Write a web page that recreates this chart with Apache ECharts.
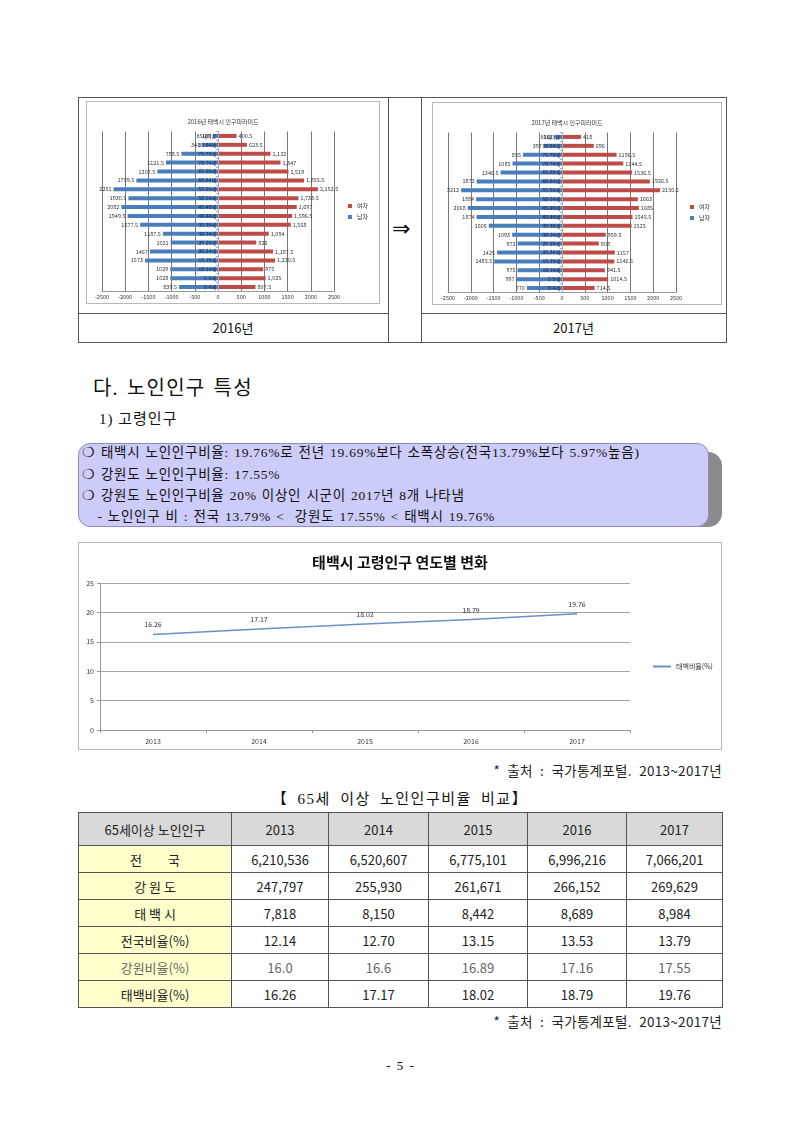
<!DOCTYPE html>
<html>
<head>
<meta charset="utf-8">
<title>태백시 노인인구 특성</title>
<script src="https://cdn.jsdelivr.net/npm/echarts@6/dist/echarts.min.js"></script>
<style>
    body { margin: 0; background: #fff; }
    #page { position: relative; width: 800px; height: 1131px; font-family: "Liberation Serif", "Noto Sans CJK KR", serif; color: #111; }
    .abs { position: absolute; }
    .line { position: absolute; background: #555; }
    .chartbox { position: absolute; border: 1px solid #b8b8b8; box-sizing: border-box; }
    .txt { position: absolute; white-space: nowrap; line-height: 1; }
    .boxtxt { font-size: 13.5px; letter-spacing: 0.75px; word-spacing: 1px; }
    .src { font-size: 13.5px; font-family: "Noto Sans CJK KR"; word-spacing: 4px; letter-spacing: 0.3px; color: #222; }
    table.cmp { position: absolute; left: 78px; top: 812px; width: 644px; border-collapse: collapse; table-layout: fixed;
        font-family: "Noto Sans CJK KR", sans-serif; font-size: 13px; color: #222; }
    table.cmp td { border: 1px solid #555; text-align: center; padding: 0; height: 26px; }
    table.cmp tr.head td { background: #d9d9d9; height: 32px; }
    table.cmp td.rowname { background: #ffffcc; }
    table.cmp tr.light td { color: #666; }
</style>
</head>
<body>
<div id="page">
    <!-- 위쪽 표 (2016 / 2017 인구피라미드) -->
    <div class="line" style="left:78px;top:97px;width:648px;height:1px"></div>
    <div class="line" style="left:78px;top:342px;width:648px;height:1px"></div>
    <div class="line" style="left:78px;top:97px;width:1px;height:246px"></div>
    <div class="line" style="left:726px;top:97px;width:1px;height:246px"></div>
    <div class="line" style="left:388px;top:97px;width:1px;height:246px"></div>
    <div class="line" style="left:421px;top:97px;width:1px;height:246px"></div>
    <div class="line" style="left:78px;top:313px;width:310px;height:1px"></div>
    <div class="line" style="left:421px;top:313px;width:305px;height:1px"></div>
    <div class="txt" style="left:392px;top:218px;font-size:22px;font-family:'DejaVu Sans'">⇒</div>
    <div class="txt" style="left:78px;width:310px;top:321px;text-align:center;font-size:13px;font-family:'Noto Sans CJK KR'">2016년</div>
    <div class="txt" style="left:421px;width:305px;top:321px;text-align:center;font-size:13px;font-family:'Noto Sans CJK KR'">2017년</div>
    <div class="chartbox" id="pyr2016" style="left:86px;top:101px;width:294px;height:203px"></div>
    <div class="chartbox" id="pyr2017" style="left:432px;top:102px;width:290px;height:203px"></div>

    <!-- 제목 -->
    <div class="txt" style="left:93px;top:378px;font-size:20px;letter-spacing:1.2px;word-spacing:2px">다. 노인인구 특성</div>
    <div class="txt" style="left:99px;top:412px;font-size:15px;letter-spacing:1px">1) 고령인구</div>

    <!-- 요약 박스 -->
    <div class="abs" style="left:92px;top:452px;width:630px;height:75px;border-radius:14px;background:linear-gradient(90deg,#c4c4c4,#8a8a8a)"></div>
    <div class="abs" style="left:78px;top:443px;width:631px;height:84px;border-radius:12px;background:#ccccf8;border:1px solid #8c8cc0;box-sizing:border-box"></div>
    <div class="txt boxtxt" style="left:82px;top:446px">❍ 태백시 노인인구비율: 19.76%로 전년 19.69%보다 소폭상승(전국13.79%보다 5.97%높음)</div>
    <div class="txt boxtxt" style="left:82px;top:468px">❍ 강원도 노인인구비율: 17.55%</div>
    <div class="txt boxtxt" style="left:82px;top:489px">❍ 강원도 노인인구비율 20% 이상인 시군이 2017년 8개 나타냄</div>
    <div class="txt boxtxt" style="left:82px;top:510px">&nbsp;&nbsp;&nbsp;- 노인인구 비 : 전국 13.79% &lt;&nbsp; 강원도 17.55% &lt; 태백시 19.76%</div>

    <!-- 선 그래프 -->
    <div class="chartbox" id="lineChart" style="left:78px;top:542px;width:644px;height:208px"></div>
    <div class="txt src" style="right:78px;top:764px">* 출처 : 국가통계포털. 2013~2017년</div>

    <!-- 비교표 -->
    <div class="txt" style="left:0;width:800px;top:792px;text-align:center;font-size:15px;letter-spacing:1.5px;word-spacing:4px">【 65세 이상 노인인구비율 비교】</div>
    <table class="cmp" id="cmpTable"></table>
    <div class="txt src" style="right:78px;top:1015px">* 출처 : 국가통계포털. 2013~2017년</div>

    <div class="txt" style="left:0;width:800px;top:1059px;text-align:center;font-size:13px;word-spacing:3px">- 5 -</div>
</div>

<script>
// 연령 구간 (아래 -> 위)
const ageGroups = ['0-4세', '5-9세', '10-14세', '15-19세', '20-24세', '25-29세', '30-34세', '35-39세', '40-44세',
    '45-49세', '50-54세', '55-59세', '60-64세', '65-69세', '70-74세', '75-79세', '80-84세', '85세이상']
// 2016년 인구 (아래 -> 위)
const male2016 = [839.5, 1028, 1029, 1573, 1467, 1021, 1187.5, 1677.5, 1949.5, 2082, 1930.5, 2251, 1759.5, 1307.5, 1121.5, 788.5, 341, 108]
const female2016 = [807.5, 1025, 975, 1230.5, 1187.5, 826, 1094, 1568, 1596.5, 1697, 1733.5, 2152.5, 1855.5, 1519, 1347, 1132, 623.5, 400.5]
// 2017년 인구 (아래 -> 위)
const male2017 = [770, 997, 975, 1485.5, 1425, 973, 1093, 1605, 1874, 2068, 1884, 2212, 1873, 1346.5, 1085, 855, 397, 161]
const female2017 = [714.5, 1014.5, 941.5, 1146.5, 1157, 808, 959.5, 1525, 1545.5, 1685, 1663, 2150.5, 1926.5, 1536.5, 1344.5, 1196.5, 696, 418]

// 선 그래프 / 표
const years = ['2013', '2014', '2015', '2016', '2017']
const nationPop = [6210536, 6520607, 6775101, 6996216, 7066201]
const gangwonPop = [247797, 255930, 261671, 266152, 269629]
const taebaekPop = [7818, 8150, 8442, 8689, 8984]
const nationRatio = ['12.14', '12.70', '13.15', '13.53', '13.79']
const gangwonRatio = ['16.0', '16.6', '16.89', '17.16', '17.55']
const taebaekRatio = [16.26, 17.17, 18.02, 18.79, 19.76]

const FONT = 'Noto Sans CJK KR'
const fmtComma = (v) => v.toLocaleString('en-US', { maximumFractionDigits: 1 })

// 인구피라미드 옵션 (연령 라벨은 0 위치로 옮김)
function pyramidOption(title, male, female, chartWidth, femaleComma) {
    const gridLeft = 15
    const gridRight = 45
    const plotWidth = chartWidth - gridLeft - gridRight
    return {
        animation: false,
        textStyle: { fontFamily: FONT },
        title: {
            text: title,
            left: gridLeft + plotWidth / 2,
            top: 12,
            textAlign: 'center',
            textStyle: { fontSize: 6, fontWeight: 'normal', color: '#333', fontFamily: FONT },
        },
        legend: {
            data: ['여자', '남자'],
            orient: 'vertical',
            right: 6,
            top: 96,
            icon: 'rect',
            itemWidth: 4,
            itemHeight: 4,
            itemGap: 5,
            textStyle: { fontSize: 6, color: '#333' },
        },
        grid: { left: gridLeft, right: gridRight, top: 29.5, bottom: 11.5 },
        xAxis: {
            type: 'value',
            min: -2500,
            max: 2500,
            interval: 500,
            axisLine: { show: true, lineStyle: { color: '#999' } },
            axisTick: { show: false },
            axisLabel: { fontSize: 5.5, margin: 3, color: '#333', formatter: (v) => String(v) },
            splitLine: { show: true, lineStyle: { color: '#777' } },
        },
        yAxis: {
            type: 'category',
            data: ageGroups,
            z: 5,
            offset: -plotWidth / 2,
            axisLine: { onZero: false, lineStyle: { color: '#aaa' } },
            axisTick: { show: true, length: 2, lineStyle: { color: '#aaa' } },
            axisLabel: { fontSize: 5, margin: 2, color: '#1a1a40' },
        },
        series: [
            {
                name: '남자',
                type: 'bar',
                data: male.map((v) => -v),
                barWidth: 4,
                barGap: '-100%',
                itemStyle: { color: '#4a7ebb' },
                label: { show: true, position: 'left', distance: 2, fontSize: 5.5, color: '#333', formatter: (p) => String(-p.value) },
            },
            {
                name: '여자',
                type: 'bar',
                data: female,
                barWidth: 4,
                itemStyle: { color: '#be4b48' },
                label: {
                    show: true, position: 'right', distance: 2, fontSize: 5.5, color: '#333',
                    formatter: (p) => (femaleComma ? fmtComma(p.value) : String(p.value)),
                },
            },
        ],
    }
}

const pyr2016 = echarts.init(document.getElementById('pyr2016'))
pyr2016.setOption(pyramidOption('2016년 태백시 인구피라미드', male2016, female2016, pyr2016.getWidth(), true))
const pyr2017 = echarts.init(document.getElementById('pyr2017'))
pyr2017.setOption(pyramidOption('2017년 태백시 인구피라미드', male2017, female2017, pyr2017.getWidth(), false))

// 연도별 고령인구 비율 선 그래프
const lineChart = echarts.init(document.getElementById('lineChart'))
lineChart.setOption({
    animation: false,
    textStyle: { fontFamily: FONT },
    title: {
        text: '태백시 고령인구 연도별 변화',
        left: 'center',
        top: 7,
        textStyle: { fontSize: 15, fontWeight: 'bold', color: '#111', fontFamily: FONT },
    },
    legend: {
        data: ['태백비율(%)'],
        left: 569,
        top: 115,
        icon: 'rect',
        itemWidth: 18,
        itemHeight: 2,
        itemGap: 3,
        textStyle: { fontSize: 7, color: '#333' },
    },
    grid: { left: 21, right: 91, top: 40, bottom: 19 },
    xAxis: {
        type: 'category',
        data: years,
        boundaryGap: true,
        axisLine: { lineStyle: { color: '#999' } },
        axisTick: { show: true, length: 3, lineStyle: { color: '#999' } },
        axisLabel: { fontSize: 7, margin: 8, color: '#333' },
    },
    yAxis: {
        type: 'value',
        min: 0,
        max: 25,
        interval: 5,
        axisLine: { show: true, lineStyle: { color: '#999' } },
        axisTick: { show: true, length: 3, lineStyle: { color: '#999' } },
        axisLabel: { fontSize: 7, margin: 6, color: '#333' },
        splitLine: { lineStyle: { color: '#a6a6a6' } },
    },
    series: [
        {
            name: '태백비율(%)',
            type: 'line',
            data: taebaekRatio,
            symbol: 'circle',
            symbolSize: 0.1,
            lineStyle: { color: '#6e8fc4', width: 1.5 },
            itemStyle: { color: '#6e8fc4' },
            label: { show: true, position: 'top', distance: 6, fontSize: 7, color: '#333', formatter: (p) => p.value.toFixed(2) },
        },
    ],
})

// 비교표
function buildTable() {
    const rows = [
        { name: '65세이상 노인인구', cells: years, cls: 'head' },
        { name: '전&emsp;&emsp;국', cells: nationPop.map(fmtComma) },
        { name: '강 원 도', cells: gangwonPop.map(fmtComma) },
        { name: '태 백 시', cells: taebaekPop.map(fmtComma) },
        { name: '전국비율(%)', cells: nationRatio },
        { name: '강원비율(%)', cells: gangwonRatio, cls: 'light' },
        { name: '태백비율(%)', cells: taebaekRatio.map((v) => v.toFixed(2)) },
    ]
    const widths = [153, 97, 100, 99, 99, 96]
    let html = '<colgroup>' + widths.map((w) => `<col style="width:${w}px">`).join('') + '</colgroup>'
    rows.forEach((r) => {
        const first = r.cls === 'head' ? '<td>' : '<td class="rowname">'
        html += `<tr class="${r.cls || ''}">${first}${r.name}</td>` + r.cells.map((c) => `<td>${c}</td>`).join('') + '</tr>'
    })
    document.getElementById('cmpTable').innerHTML = html
}
buildTable()
</script>
</body>
</html>
